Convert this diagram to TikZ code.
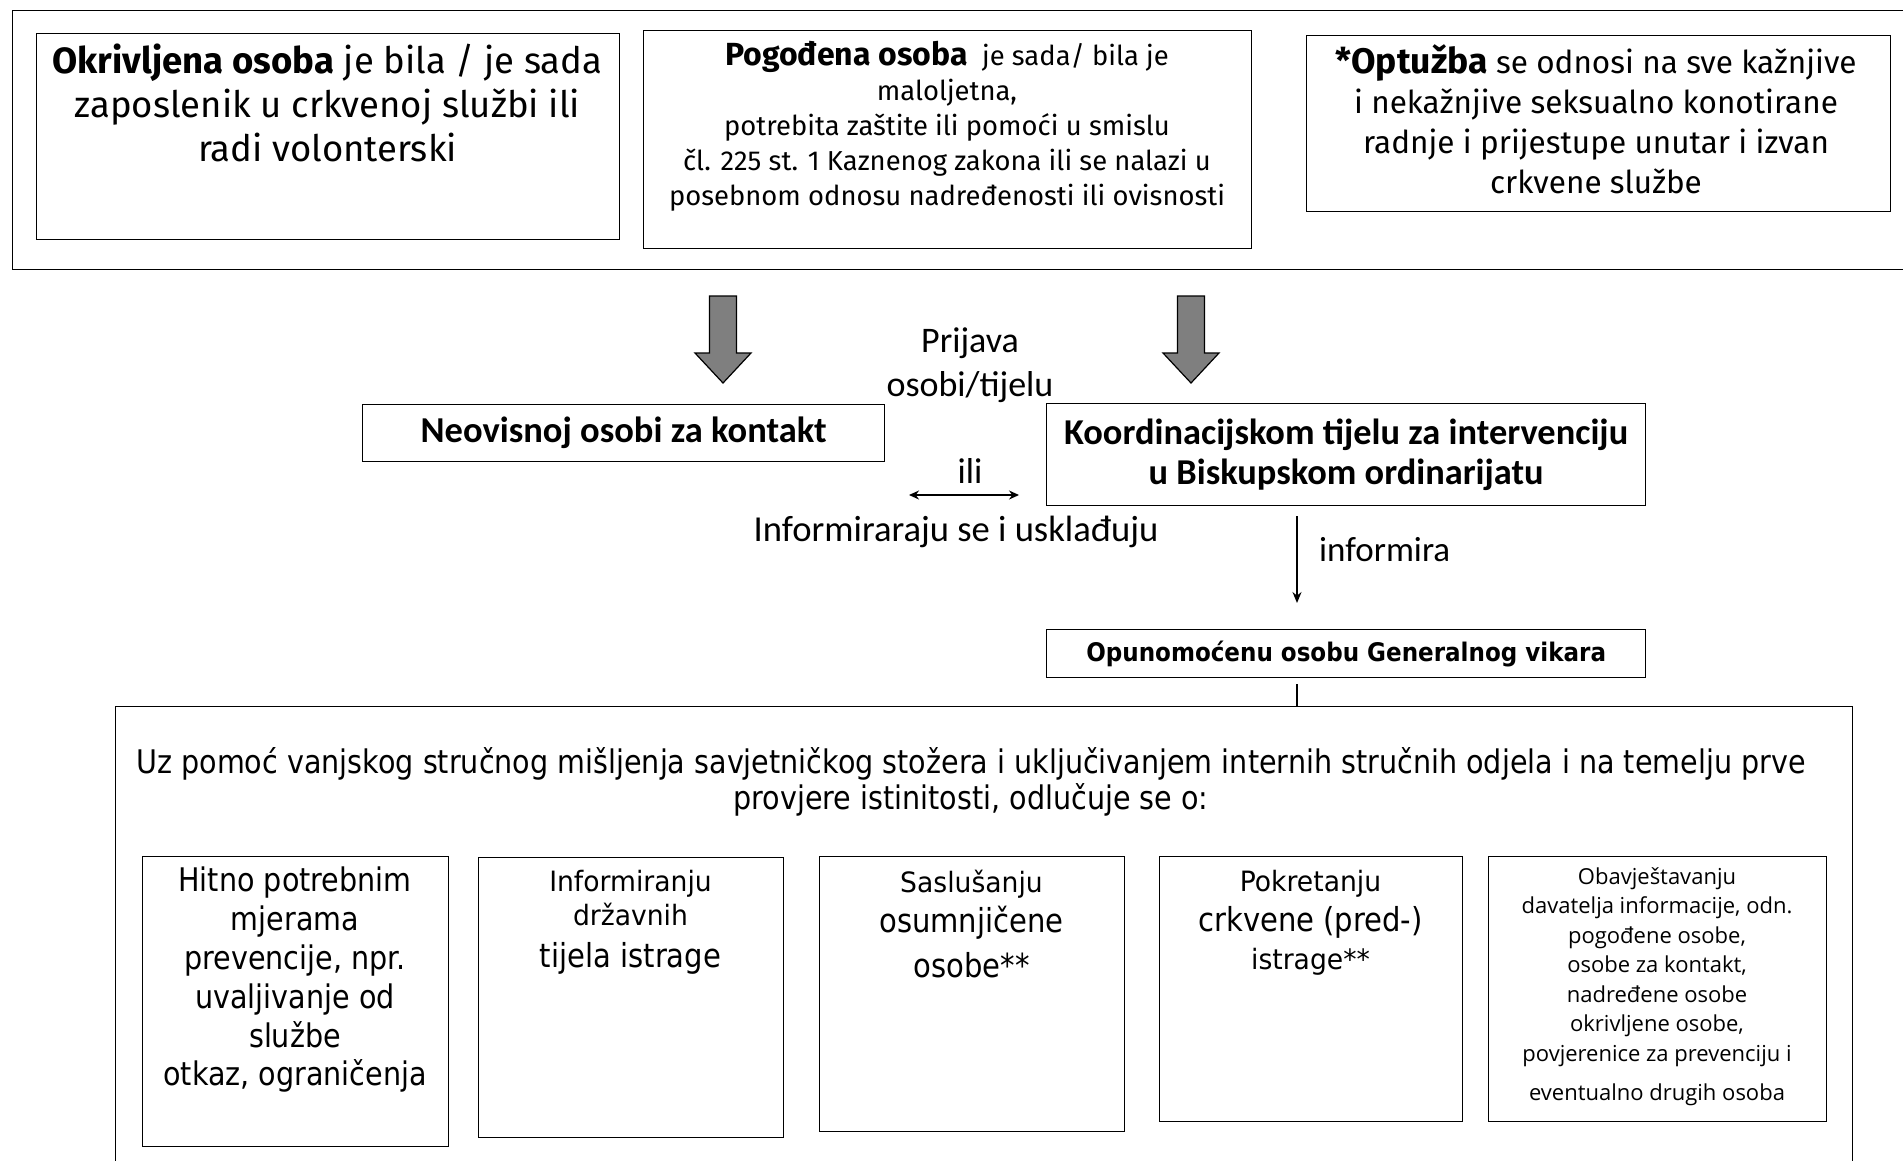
\documentclass[tikz,border=0pt]{standalone}
\usepackage{fontspec}
\setmainfont{Fira Sans}
\newfontfamily\topfont{Fira Sans}
\newfontfamily\midfont{Carlito}
\newfontfamily\botfont[FakeStretch=0.88]{DejaVu Sans}
\newfontfamily\botsmfont[FakeStretch=0.95]{DejaVu Sans}
\newfontfamily\botbfont[FakeStretch=0.9]{DejaVu Sans}
\newfontfamily\smfont{Open Sans}
\usetikzlibrary{arrows.meta}
\definecolor{arrgray}{HTML}{7F7F7F}
\begin{document}
\begin{tikzpicture}[x=1pt,y=-1pt,
  box/.style={draw, line width=1.3pt, inner sep=0pt, anchor=north west},
  txt/.style={inner sep=0pt, align=center},
  bigarrow/.style={draw, line width=1.2pt, fill=arrgray},
  thin/.style={line width=1.4pt}
]
\useasboundingbox (0,0) rectangle (1903,1160);
% top frame
\node[box, minimum width=1910pt, minimum height=259pt] (top) at (12,10) {};
\node[box, minimum width=583pt, minimum height=206pt] (b1box) at (36,33) {};
\node[box, minimum width=608pt, minimum height=218pt] (b2box) at (643,30) {};
\node[box, minimum width=584pt, minimum height=176pt] (b3box) at (1306,35) {};
\node[txt, anchor=north, font={\topfont\fontsize{36.5}{44}\selectfont}] (t1) at (327.5,44)
  {\textbf{Okrivljena osoba} je bila / je sada\\zaposlenik u crkvenoj službi ili\\radi volonterski};
\node[txt, anchor=north, font={\topfont\fontsize{27.4}{35}\selectfont}] (t2) at (947,41)
  {{\fontsize{32}{35}\selectfont\textbf{Pogođena osoba}}\ \ je sada/ bila je\\maloljetna,\\potrebita zaštite ili pomoći u smislu\\čl. 225 st. 1 Kaznenog zakona ili se nalazi u\\posebnom odnosu nadređenosti ili ovisnosti};
\node[txt, anchor=north, font={\topfont\fontsize{31.5}{40}\selectfont}] (t3) at (1596,44)
  {{\fontsize{35.5}{40}\selectfont\textbf{*Optužba}} se odnosi na sve kažnjive\\i nekažnjive seksualno konotirane\\radnje i prijestupe unutar i izvan\\crkvene službe};
% gray arrows
\draw[bigarrow] (709.5,296) -- (736.5,296) -- (736.5,353) -- (751,353) -- (723,383) -- (695,353) -- (709.5,353) -- cycle;
\draw[bigarrow] (1177.5,296) -- (1204.5,296) -- (1204.5,353) -- (1219,353) -- (1191,383) -- (1163,353) -- (1177.5,353) -- cycle;
% middle
\node[txt, anchor=north, font={\midfont\fontsize{36}{44}\selectfont}] (prij) at (970,328) {Prijava\\osobi/tijelu};
\node[box, minimum width=522pt, minimum height=57pt] (neo) at (362,404) {};
\node[txt, font={\midfont\bfseries\fontsize{36.5}{40}\selectfont}] (neot) at (neo.center) {Neovisnoj osobi za kontakt};
\node[box, minimum width=599pt, minimum height=102pt] (koord) at (1046,403) {};
\node[txt, font={\midfont\bfseries\fontsize{36.4}{40}\selectfont}] (koordt) at (koord.center) {Koordinacijskom tijelu za intervenciju\\u Biskupskom ordinarijatu};
\node[txt, font={\midfont\fontsize{36}{40}\selectfont}] (ili) at (970,471) {ili};
\coordinate (da1) at (909,495);
\coordinate (da2) at (1019,495);
\draw[thin, {Stealth[length=10pt,width=9pt]}-{Stealth[length=10pt,width=9pt]}] (da1) -- (da2);
\node[txt, font={\midfont\fontsize{36.6}{40}\selectfont}] (infu) at (956,532) {Informiraraju se i usklađuju};
\coordinate (ia) at (1297,516);
\coordinate (ib) at (1297,603);
\draw[thin, -{Stealth[length=11pt,width=9pt]}] (ia) -- (ib);
\node[txt, anchor=west, font={\midfont\fontsize{35}{40}\selectfont}] (infl) at (1319,550) {informira};
\node[box, minimum width=599pt, minimum height=48pt] (opun) at (1046,629) {};
\node[txt, font={\botbfont\bfseries\fontsize{25.6}{30}\selectfont}] (opunt) at (opun.center) {Opunomoćenu osobu Generalnog vikara};
% bottom frame
\node[box, minimum width=1737pt, minimum height=520pt] (big) at (115,706) {};
\coordinate (lc) at (1297,684);
\draw[line width=2.6pt] (lc) -- (lc |- big.north);
\node[txt, anchor=north, font={\botfont\fontsize{32.5}{36}\selectfont}] (bigt) at (971,747)
  {Uz pomoć vanjskog stručnog mišljenja savjetničkog stožera i uključivanjem internih stručnih odjela i na temelju prve\\provjere istinitosti, odlučuje se o:};
\node[box, minimum width=306pt, minimum height=290pt] (c1) at (142,856) {};
\node[box, minimum width=305pt, minimum height=280pt] (c2) at (478,857) {};
\node[box, minimum width=305pt, minimum height=275pt] (c3) at (819,856) {};
\node[box, minimum width=303pt, minimum height=265pt] (c4) at (1159,856) {};
\node[box, minimum width=338pt, minimum height=265pt] (c5) at (1488,856) {};
\node[txt, anchor=north, font={\botfont\fontsize{32.5}{38.8}\selectfont}] (c1t) at (295,867)
  {Hitno potrebnim\\mjerama\\prevencije, npr.\\uvaljivanje od\\službe\\otkaz, ograničenja};
\node[txt, anchor=north, font={\botsmfont\fontsize{28}{34}\selectfont}] (c2t) at (630.5,870)
  {Informiranju\\državnih\\[8pt]{\botfont\fontsize{33}{38}\selectfont tijela istrage}};
\node[txt, anchor=north, font={\botfont\fontsize{33}{40}\selectfont}] (c3t) at (971.5,870)
  {{\botsmfont\fontsize{28}{34}\selectfont Saslušanju}\\osumnjičene\\[5pt]osobe**};
\node[txt, anchor=north, font={\botsmfont\fontsize{28}{36}\selectfont}] (c4t) at (1310.5,870)
  {Pokretanju\\[4pt]{\botfont\fontsize{33}{38}\selectfont crkvene (pred-)}\\[2pt]istrage**};
\node[txt, anchor=north, font={\smfont\fontsize{22}{29.5}\selectfont}] (c5t) at (1657,867)
  {Obavještavanju\\davatelja informacije, odn.\\pogođene osobe,\\osobe za kontakt,\\nadređene osobe\\okrivljene osobe,\\povjerenice za prevenciju i\\[10pt]eventualno drugih osoba};
\end{tikzpicture}
\end{document}
